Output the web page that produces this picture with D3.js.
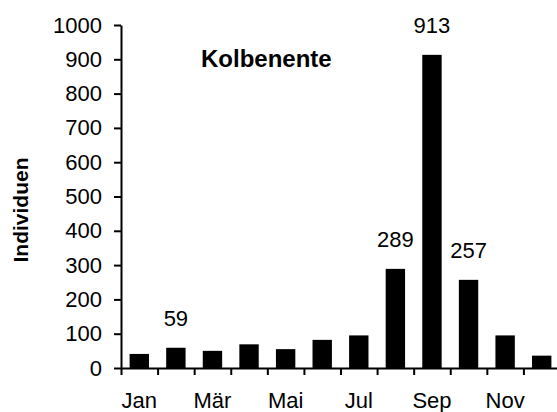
<!DOCTYPE html>
<html>
<head>
<meta charset="utf-8">
<script src="https://cdn.jsdelivr.net/npm/d3@7"></script>
<style>
body{margin:0;background:#fff;}
svg{display:block;font-family:"Liberation Sans",Arial,sans-serif;}
</style>
</head>
<body>
<div id="chart"></div>
<script>
// data
let months = ["Jan","Feb","Mär","Apr","Mai","Jun","Jul","Aug","Sep","Okt","Nov","Dez"];
let counts = [41, 59, 50, 69, 55, 82, 95, 289, 913, 257, 95, 36];
let shownMonths = ["Jan","Mär","Mai","Jul","Sep","Nov"];
let labelled = ["Feb","Aug","Sep","Okt"];
let yTicks = [0,100,200,300,400,500,600,700,800,900,1000];
let title = "Kolbenente";
let yTitle = "Individuen";

let width = 557, height = 412;
let svg = d3.select("#chart").append("svg").attr("width", width).attr("height", height);

// scales
let x0 = 121, x1 = 560;
let scaleX = d3.scaleBand().domain(months).range([x0, x1]).paddingInner(0.47).paddingOuter(0.235);
let scaleEdge = d3.scaleLinear().domain([0, 12]).range([x0, x1]);
let scaleY = d3.scaleLinear().domain([0, 1000]).range([368, 25]);

// bars
svg.selectAll("rect.bar").data(months).enter().append("rect")
  .attr("class","bar")
  .attr("x", d => scaleX(d))
  .attr("y", (d,i) => scaleY(counts[i]))
  .attr("width", scaleX.bandwidth())
  .attr("height", (d,i) => scaleY(0) - scaleY(counts[i]))
  .attr("fill", "#000");

// value labels
svg.selectAll("text.val").data(months.filter(m => labelled.includes(m))).enter().append("text")
  .attr("class","val")
  .attr("x", d => scaleX(d) + scaleX.bandwidth()/2)
  .attr("y", d => scaleY(counts[months.indexOf(d)]) - 22)
  .attr("text-anchor","middle")
  .style("font-size","22px")
  .text(d => counts[months.indexOf(d)]);

// x axis: tick marks at band edges, labels at band centres
let xTicksG = svg.append("g").attr("transform","translate(0,"+scaleY(0)+")")
  .call(d3.axisBottom(scaleEdge).tickValues(d3.range(0,13)).tickFormat("").tickSize(7).tickSizeOuter(0));
let xLabG = svg.append("g").attr("transform","translate(0,"+scaleY(0)+")")
  .call(d3.axisBottom(scaleX).tickValues(shownMonths).tickSize(0).tickPadding(24));
xLabG.select(".domain").remove();

// y axis
let yAxisG = svg.append("g").attr("transform","translate("+x0+",0)")
  .call(d3.axisLeft(scaleY).tickValues(yTicks).tickFormat(d3.format("d")).tickSize(7).tickSizeOuter(0).tickPadding(12));

svg.selectAll(".domain, .tick line").attr("stroke","#000").attr("stroke-width",2);
svg.selectAll(".tick text").style("font-size","22px").style("font-family","'Liberation Sans',Arial,sans-serif").attr("fill","#000");

// titles
svg.append("text").attr("x",201).attr("y",67)
  .style("font-size","24px").style("font-weight","bold").text(title);
svg.append("text").attr("transform","translate(28,210) rotate(-90)")
  .attr("text-anchor","middle")
  .style("font-size","21px").style("font-weight","bold").text(yTitle);
</script>
</body>
</html>
